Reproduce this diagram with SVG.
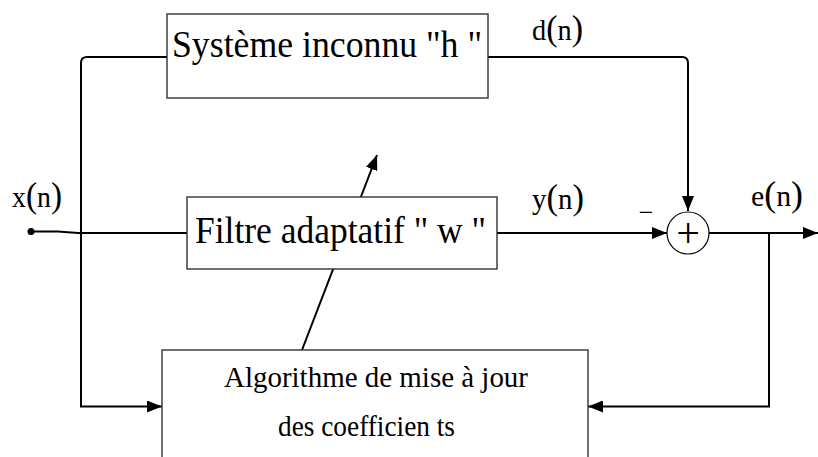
<svg xmlns="http://www.w3.org/2000/svg" width="818" height="457" viewBox="0 0 818 457">
  <defs>
    <marker id="arrow" markerUnits="userSpaceOnUse" markerWidth="16" markerHeight="12" refX="15" refY="6" orient="auto">
      <path d="M0,0 L15,6 L0,12 Z" fill="#000"/>
    </marker>
  </defs>
  <style>
    .wire { fill: none; stroke: #000; stroke-width: 2; }
    .box { fill: #fff; stroke: #333; stroke-width: 1.4; }
    text { font-family: 'Liberation Serif', 'Times New Roman', serif; fill: #000; }
    .big { font-size: 38px; }
    .sig { font-size: 30px; }
    .par { font-size: 36px; }
    .alg { font-size: 29px; }
  </style>
  <rect width="818" height="457" fill="#fff"/>

  <!-- connectors -->
  <g id="connectors">
    <!-- x(n) input to adaptive filter -->
    <circle cx="31" cy="231.5" r="3.5" fill="#000"/>
    <path class="wire" d="M31,231.5 L58,231.5 L78,233 L187,233"/>
    <!-- x(n) to unknown system and to update algorithm -->
    <path class="wire" d="M167,57 L87,57 Q81,57 81,63 L81,406.5 L162,406.5" marker-end="url(#arrow)"/>
    <!-- d(n) to summing node -->
    <path class="wire" d="M488,57 L682,57 Q688,57 688,63 L688,211" marker-end="url(#arrow)"/>
    <!-- y(n) to summing node -->
    <path class="wire" d="M497,233 L667,233" marker-end="url(#arrow)"/>
    <!-- e(n) output -->
    <path class="wire" d="M709,233 L818,233" marker-end="url(#arrow)"/>
    <!-- e(n) feedback to update algorithm -->
    <path class="wire" d="M769,233 L769,406.5 L588,406.5" marker-end="url(#arrow)"/>
    <!-- coefficient update through the filter -->
    <path class="wire" stroke-width="1.8" d="M302,350 L377,155" marker-end="url(#arrow)"/>
  </g>

  <g id="systeme">
    <rect class="box" x="167" y="14" width="321" height="84"/>
    <text class="big" x="172" y="57" textLength="310" lengthAdjust="spacingAndGlyphs">Système inconnu "h "</text>
  </g>

  <g id="filtre">
    <rect class="box" x="187" y="197" width="310" height="72"/>
    <text class="big" x="195" y="243" textLength="291" lengthAdjust="spacingAndGlyphs">Filtre adaptatif " w "</text>
  </g>

  <g id="algorithme">
    <rect class="box" x="162" y="350" width="426" height="120"/>
    <text class="alg" x="224" y="387" textLength="304" lengthAdjust="spacingAndGlyphs">Algorithme de mise à  jour</text>
    <text class="alg" x="278" y="436" textLength="177" lengthAdjust="spacingAndGlyphs">des coefficien ts</text>
  </g>

  <g id="sommateur">
    <circle cx="688" cy="233" r="21" fill="#fff" stroke="#000" stroke-width="1.2"/>
    <text x="688" y="247" font-size="42" text-anchor="middle">+</text>
    <text x="646" y="221" font-size="26" text-anchor="middle">−</text>
  </g>

  <g id="signaux">
    <text class="sig" x="12" y="207" textLength="50" lengthAdjust="spacingAndGlyphs">x<tspan class="par">(</tspan>n<tspan class="par">)</tspan></text>
    <text class="sig" x="532" y="40" textLength="51" lengthAdjust="spacingAndGlyphs">d<tspan class="par">(</tspan>n<tspan class="par">)</tspan></text>
    <text class="sig" x="532" y="209" textLength="52" lengthAdjust="spacingAndGlyphs">y<tspan class="par">(</tspan>n<tspan class="par">)</tspan></text>
    <text class="sig" x="751" y="206" textLength="52" lengthAdjust="spacingAndGlyphs">e<tspan class="par">(</tspan>n<tspan class="par">)</tspan></text>
  </g>
</svg>
